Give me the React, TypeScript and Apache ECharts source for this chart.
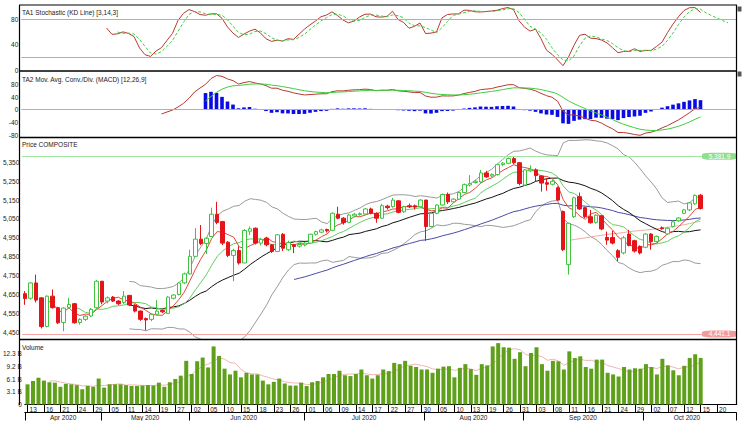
import React, { useEffect, useRef } from "react";
import * as echarts from "echarts";

const dates = [
  "04-13","04-14","04-15","04-16","04-17","04-20","04-21","04-22","04-23","04-24","04-27","04-28","04-29","04-30",
  "05-04","05-05","05-06","05-08","05-11","05-12","05-13","05-14","05-15","05-18","05-19","05-20","05-22","05-27","05-28","05-29",
  "06-02","06-03","06-04","06-05","06-08","06-09","06-10","06-11","06-12","06-15","06-16","06-17","06-18","06-19","06-22","06-23","06-24","06-25","06-26","06-29","06-30",
  "07-01","07-02","07-03","07-06","07-07","07-08","07-09","07-10","07-13","07-14","07-15","07-16","07-17","07-20","07-21","07-22","07-23","07-24","07-27","07-28","07-29","07-30",
  "08-03","08-04","08-05","08-06","08-07","08-10","08-11","08-12","08-13","08-14","08-18","08-19","08-24","08-25","08-26","08-27","08-28","08-31",
  "09-01","09-02","09-03","09-04","09-07","09-08","09-09","09-10","09-11","09-14","09-15","09-16","09-17","09-18","09-21","09-22","09-23","09-24","09-25","09-28","09-29","09-30",
  "10-01","10-02","10-05","10-06","10-07","10-08","10-09","10-12","10-13","10-14","10-15","10-16","10-19","10-20","10-21","10-22","10-23",
];
const monthNames = ["", "Jan", "Feb", "Mar", "Apr", "May", "Jun", "Jul", "Aug", "Sep", "Oct", "Nov", "Dec"];
const year = "2020";
const lastDayLabelIdx = 126;

const opens = [
  4654,4630,4711,4632,4480,4641,4580,4502,4580,4601,
  4501,4518,4536,4580,4720,4615,4636,4615,4608,4645,
  4594,4562,4522,4518,4545,4565,4550,4630,4650,4711,
  4759,4852,4943,4920,4957,5075,5036,4927,4857,4883,
  4817,4985,5001,4922,4948,4913,4878,4969,4887,4913,
  4906,4913,4922,4969,4980,4994,4990,5075,5054,5032,
  5066,5073,5076,5103,5080,5054,5118,5115,5146,5088,
  5120,5120,5115,5150,5010,5080,5124,5180,5141,5155,
  5190,5230,5243,5246,5294,5278,5285,5338,5345,5370,
  5348,5230,5305,5310,5278,5242,5234,5215,5089,4808,
  5062,5168,5110,5062,5032,5067,4952,4952,4882,4870,
  4970,4935,4905,4900,4970,4930,5003,4971,5010,5040,
  5080,5098,5130,5176,
];
const highs = [
  4668,4716,4755,4636,4645,4676,4585,4582,4632,4605,
  4524,4540,4578,4727,4722,4640,4642,4620,4668,4648,
  4598,4565,4528,4550,4620,4570,4641,4652,4716,4766,
  4887,5001,5018,4955,5110,5141,5040,4932,4892,4905,
  4996,5010,5005,4950,4955,4918,4970,4975,4935,4918,
  4920,4928,4972,4988,4998,4999,5085,5115,5060,5076,
  5082,5085,5108,5110,5085,5130,5125,5162,5150,5120,
  5132,5126,5155,5152,5085,5128,5185,5190,5160,5195,
  5238,5282,5258,5310,5305,5292,5343,5352,5376,5380,
  5352,5315,5334,5318,5282,5265,5258,5222,5095,5030,
  5168,5190,5115,5098,5075,5072,4983,4987,4890,4960,
  4992,4940,4910,4975,4975,4962,5010,5008,5042,5060,
  5103,5140,5180,5182,
];
const lows = [
  4595,4622,4608,4470,4476,4575,4493,4455,4575,4495,
  4490,4510,4530,4575,4598,4603,4610,4593,4600,4588,
  4555,4510,4460,4508,4540,4552,4548,4624,4645,4705,
  4755,4850,4912,4864,4955,5022,4912,4848,4720,4808,
  4815,4965,4915,4910,4905,4870,4875,4880,4880,4869,
  4898,4905,4918,4962,4975,4978,4985,5048,5020,5028,
  5060,5068,5070,5075,5030,5050,5100,5110,5080,5082,
  5108,5100,5110,4934,5005,5075,5120,5130,5135,5150,
  5186,5222,5238,5240,5268,5270,5280,5330,5340,5340,
  5228,5225,5298,5250,5195,5200,5228,5145,4880,4755,
  5055,5098,5055,5025,5025,4990,4913,4915,4826,4862,
  4905,4872,4862,4895,4887,4925,4993,4965,5005,5035,
  5075,5092,5125,5100,
];
const closes = [
  4628,4711,4620,4480,4641,4580,4500,4578,4597,4500,
  4518,4535,4571,4720,4610,4632,4615,4601,4641,4594,
  4562,4518,4515,4545,4562,4558,4636,4647,4711,4759,
  4852,4943,4920,4948,5075,5031,4922,4857,4883,4817,
  4989,4998,4922,4942,4913,4878,4966,4895,4925,4904,
  4915,4922,4969,4983,4992,4987,5080,5054,5031,5071,
  5075,5078,5103,5080,5054,5120,5110,5150,5085,5115,
  5115,5113,5150,5010,5080,5124,5180,5141,5155,5190,
  5232,5238,5250,5294,5273,5285,5338,5346,5370,5348,
  5238,5310,5313,5280,5240,5234,5250,5150,4887,5027,
  5162,5103,5062,5030,5070,4997,4938,4922,4847,4950,
  4910,4880,4870,4970,4930,4958,4998,5001,5035,5055,
  5098,5135,5175,5105,
];
// volume in billions
const volumesB = [
  4.9,5.7,6.5,5.8,5.4,5.3,4.3,5.0,4.9,4.7,
  3.7,4.5,4.3,6.3,4.1,4.9,4.9,4.9,4.7,4.5,
  4.5,4.6,4.7,4.6,5.3,4.3,5.4,6.2,7.0,10.6,
  7.4,10.5,11.4,9.0,14.1,11.8,8.7,7.3,8.2,6.6,
  7.7,7.3,7.3,5.8,4.9,5.5,6.3,5.1,4.6,4.6,
  5.3,4.5,5.4,5.7,6.6,7.4,7.4,8.2,7.1,6.9,
  7.4,8.5,7.1,6.3,7.1,8.5,8.1,10.1,9.8,10.6,
  9.4,9.1,8.5,8.5,7.7,8.7,9.2,9.3,6.6,8.9,
  9.8,8.6,7.2,9.8,9.5,14.1,14.9,13.9,13.8,11.1,
  12.7,9.3,12.5,13.9,9.8,8.2,10.6,10.5,8.5,12.9,
  11.3,11.7,9.1,8.7,10.9,10.9,7.7,7.3,6.8,9.1,
  8.5,8.8,8.7,9.8,9.1,7.3,11.1,9.5,8.3,7.1,
  9.4,11.3,12.2,11.3,
];
// %D line as drawn beyond the last bar
const stochDProjection = [90, 86, 82, 78, 74.5];

const stochTicks = [0, 40, 80];
const stochLevels = [80, 20];
const macdTicks = [-80, -40, 0, 40, 80];
const priceTicks = [4450, 4550, 4650, 4750, 4850, 4950, 5050, 5150, 5250, 5350];
const volumeTicks = [0, 3.07, 6.14, 9.21, 12.28];
const volumeTickLabels = ["0", "3.1 B", "6.1 B", "9.2 B", "12.3 B"];
const priceHighLine = 5381.9;
const priceLowLine = 4441.1;

const FONT = "'Liberation Sans', Arial, sans-serif";

type N = number | null;
const sma = (arr: N[], n: number): N[] =>
  arr.map((_, i) => {
    if (i < n - 1) return null;
    let s = 0;
    for (let k = i - n + 1; k <= i; k++) {
      const v = arr[k];
      if (v == null) return null;
      s += v;
    }
    return s / n;
  });
const ema = (arr: N[], n: number): N[] => {
  const out: N[] = arr.map(() => null);
  const first = arr.findIndex((v) => v != null);
  if (first < 0) return out;
  const seed = first + n - 1;
  if (seed >= arr.length) return out;
  let s = 0;
  for (let k = first; k <= seed; k++) s += arr[k] as number;
  let e = s / n;
  out[seed] = e;
  const a = 2 / (n + 1);
  for (let i = seed + 1; i < arr.length; i++) {
    e = (arr[i] as number) * a + e * (1 - a);
    out[i] = e;
  }
  return out;
};

function buildOption() {
  const n = closes.length;
  const fmt = (v: number, d = 0) =>
    v.toLocaleString("en-US", { minimumFractionDigits: d, maximumFractionDigits: d });

  // Stochastic 14, slowing 3, %D 3
  const num: N[] = [], den: N[] = [];
  for (let i = 0; i < n; i++) {
    if (i < 13) { num.push(null); den.push(null); continue; }
    let hh = -Infinity, ll = Infinity;
    for (let k = i - 13; k <= i; k++) { hh = Math.max(hh, highs[k]); ll = Math.min(ll, lows[k]); }
    num.push(closes[i] - ll);
    den.push(hh - ll);
  }
  const sNum = sma(num, 3), sDen = sma(den, 3);
  const stochK: N[] = sNum.map((v, i) => (v == null ? null : (100 * v) / (sDen[i] as number)));
  const stochD: N[] = sma(stochK, 3).concat(stochDProjection);

  // MACD 12,26,9
  const e12 = ema(closes, 12), e26 = ema(closes, 26);
  const macd: N[] = closes.map((_, i) => (e26[i] == null ? null : (e12[i] as number) - (e26[i] as number)));
  const signal = ema(macd, 9);
  const hist: N[] = macd.map((v, i) => (signal[i] == null ? null : (v as number) - (signal[i] as number)));

  // moving averages & bollinger
  const ma5 = sma(closes, 5), ma10 = sma(closes, 10), ma20 = sma(closes, 20);
  const ema50 = ema(closes, 50), ma100 = sma(closes, 100);
  const bbUp: N[] = [], bbLo: N[] = [];
  for (let i = 0; i < n; i++) {
    const m = ma20[i];
    if (m == null) { bbUp.push(null); bbLo.push(null); continue; }
    let s = 0;
    for (let k = i - 19; k <= i; k++) s += (closes[k] - m) ** 2;
    const sd = Math.sqrt(s / 20);
    bbUp.push(m + 2 * sd);
    bbLo.push(m - 2 * sd);
  }
  const volMa = sma(volumesB, 5);

  const candles = closes.map((c, i) => [opens[i], c, lows[i], highs[i]]);

  // month boundaries from categories
  const monthStart: number[] = [];
  dates.forEach((d, i) => { if (i === 0 || d.slice(0, 2) !== dates[i - 1].slice(0, 2)) monthStart.push(i); });
  const monthLabelIdx = monthStart.map((s, j) => {
    const e = j + 1 < monthStart.length ? monthStart[j + 1] - 1 : dates.length - 1;
    return Math.ceil((s + e) / 2);
  });
  const showDay = (i: number) => i % 3 === 0 && i <= lastDayLabelIdx;

  const L = 21.25, W = 715;
  const grids = [
    { left: L, width: W, top: 6.55, height: 63.75 },
    { left: L, width: W, top: 71.66, height: 65.3 },
    { left: L, width: W, top: 138, height: 201 },
    { left: L, width: W, top: 340, height: 65.3 },
  ];
  const labelBase = { fontSize: 6.5, color: "#222", fontFamily: FONT, margin: 3 };
  const yBase = (gi: number, min: number, max: number, ticks: number[], formatter: (v: number) => string) => ({
    type: "value", gridIndex: gi, min, max, scale: true,
    axisLine: { show: false }, axisTick: { show: false }, splitLine: { show: false },
    axisLabel: { ...labelBase, customValues: ticks, formatter },
  });
  const hiddenX = (gi: number) => ({ type: "category", gridIndex: gi, data: dates, boundaryGap: true, show: false });
  const line = (name: string, xi: number, data: N[], color: string, extra: any = {}) => ({
    name, type: "line", xAxisIndex: xi, yAxisIndex: xi, data, symbol: "none", showSymbol: false,
    silent: true, z: 2, lineStyle: { width: 1, color }, itemStyle: { color }, ...extra,
  });

  const t = (text: string, x: number, y: number) => ({
    type: "text", left: x, top: y, z: 100, silent: true,
    style: { text, fontSize: 6.5, fill: "#222", fontFamily: FONT },
  });
  const ln = (x1: number, y1: number, x2: number, y2: number, w = 1.5) => ({
    type: "line", z: 100, silent: true, shape: { x1, y1, x2, y2 }, style: { stroke: "#000", lineWidth: w },
  });

  return {
    animation: false,
    backgroundColor: "#fff",
    grid: grids,
    xAxis: [
      hiddenX(0), hiddenX(1), hiddenX(2),
      {
        type: "category", gridIndex: 3, data: dates, boundaryGap: true, position: "bottom",
        axisLine: { show: true, lineStyle: { color: "#000", width: 1 } },
        axisTick: { show: true, alignWithLabel: true, interval: (i: number) => showDay(i), length: 8, lineStyle: { color: "#000" } },
        axisLabel: { ...labelBase, interval: (i: number) => showDay(i), align: "left", margin: 1.5, padding: [0, 0, 0, 2],
          formatter: (v: string) => v.slice(3) },
      },
      {
        type: "category", gridIndex: 3, data: dates, boundaryGap: true, position: "bottom", offset: 8,
        axisLine: { show: true, lineStyle: { color: "#000", width: 1 } },
        axisTick: { show: true, alignWithLabel: false, length: 8, lineStyle: { color: "#000" },
          interval: (i: number) => monthStart.includes(i) },
        axisLabel: { ...labelBase, color: "#222", margin: 1.5, padding: [0, 5.5, 0, 0],
          interval: (i: number) => monthLabelIdx.includes(i),
          formatter: (v: string) => monthNames[parseInt(v.slice(0, 2), 10)] + " " + year },
      },
    ],
    yAxis: [
      yBase(0, 0, 100, stochTicks, (v) => String(v)),
      yBase(1, -86, 120, macdTicks, (v) => String(v)),
      yBase(2, 4414, 5479, priceTicks, (v) => fmt(v)),
      yBase(3, 0, 15.66, volumeTicks, (v) => volumeTickLabels[volumeTicks.indexOf(v)] ?? ""),
    ],
    graphic: [
      ln(19, 5, 737, 5, 1.2),
      ln(19.5, 5, 19.5, 405, 1.2),
      ln(736.5, 5, 736.5, 405, 1.2),
      ln(19, 71, 737, 71, 1.6),
      ln(19, 137.5, 737, 137.5, 1.6),
      ln(19, 339.5, 737, 339.5, 1.6),
      { type: "rect", z: 100, shape: { x: 737.5, y: 6.5, width: 4, height: 5 }, style: { fill: "#555" } },
      { type: "rect", z: 100, shape: { x: 737.5, y: 71.5, width: 4, height: 5 }, style: { fill: "#555" } },
      t("TA1 Stochastic (KD Line) [3,14,3]", 22, 9),
      t("TA2 Mov. Avg. Conv./Div. (MACD) [12,26,9]", 22, 76),
      t("Price COMPOSITE", 22, 141),
      t("Volume", 22, 344),
    ],
    series: [
      line("%K", 0, stochK, "#b83a32", {
        markLine: {
          silent: true, symbol: ["none", "none"], label: { show: false },
          lineStyle: { color: "#d9a86a", width: 1, type: "solid" },
          data: stochLevels.map((v) => ({ yAxis: v })),
        },
      }),
      line("%D", 0, stochD, "#3fcf3f", { lineStyle: { width: 1, color: "#3fcf3f", type: [3, 2] } }),
      line("MACD", 1, macd, "#b83a32", {
        markLine: {
          silent: true, symbol: ["none", "none"], label: { show: false },
          lineStyle: { color: "#d9a86a", width: 1, type: "solid" }, data: [{ yAxis: 0 }],
        },
      }),
      line("Signal", 1, signal, "#3fcf3f"),
      {
        name: "Hist", type: "bar", xAxisIndex: 1, yAxisIndex: 1, data: hist, barWidth: 3.6,
        silent: true, z: 1, itemStyle: { color: "#0a0ae6" },
      },
      line("BB Upper", 2, bbUp, "#9a9a9a"),
      line("BB Lower", 2, bbLo, "#9a9a9a"),
      line("MA100", 2, ma100, "#f2a9a2"),
      line("EMA50", 2, ema50, "#4a4aa8"),
      line("MA20", 2, ma20, "#111111"),
      line("MA10", 2, ma10, "#5fcf5f"),
      line("MA5", 2, ma5, "#e04a3a"),
      {
        name: "COMPOSITE", type: "candlestick", xAxisIndex: 2, yAxisIndex: 2, data: candles,
        barWidth: 4, silent: true, z: 3,
        itemStyle: { color: "#ffffff", color0: "#e4141a", borderColor: "#3ec43e", borderColor0: "#e4141a", borderWidth: 1 },
        markLine: {
          silent: true, symbol: ["none", "none"], label: { show: false },
          data: [
            { yAxis: priceHighLine, lineStyle: { color: "#9fe69f", width: 1, type: "solid" } },
            { yAxis: priceLowLine, lineStyle: { color: "#f3a3a3", width: 1, type: "solid" } },
          ],
        },
        markPoint: {
          silent: true, symbol: "roundRect", symbolSize: [35, 7], symbolOffset: [2.5, 0],
          label: { show: true, color: "#ffffff", fontSize: 6.5, fontFamily: FONT },
          data: [
            { coord: [dates[126], priceHighLine], itemStyle: { color: "#8fdf8f" }, label: { formatter: fmt(priceHighLine, 1) } },
            { coord: [dates[126], priceLowLine], itemStyle: { color: "#f29b9b" }, label: { formatter: fmt(priceLowLine, 1) } },
          ],
        },
      },
      line("Volume MA", 3, volMa, "#f2b4b0", { z: 1 }),
      {
        name: "Volume", type: "bar", xAxisIndex: 3, yAxisIndex: 3, data: volumesB, barWidth: 4,
        silent: true, z: 2, itemStyle: { color: "#5fa01b" },
      },
    ],
  };
}

export default function App() {
  const ref = useRef<HTMLDivElement>(null);
  useEffect(() => {
    const chart = echarts.init(ref.current as HTMLDivElement, null, { renderer: "svg" });
    chart.setOption(buildOption() as any);
    return () => chart.dispose();
  }, []);
  return (
    <div
      ref={ref}
      style={{ position: "fixed", left: 0, top: 0, width: 742, height: 421, background: "#fff" }}
    />
  );
}
